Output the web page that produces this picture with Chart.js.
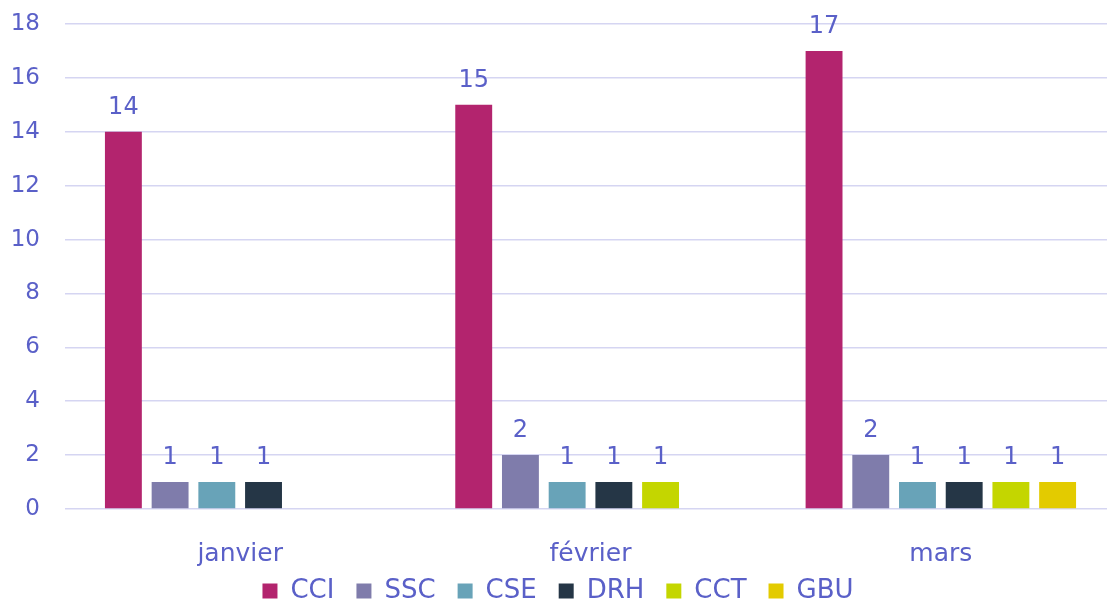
<!DOCTYPE html>
<html>
<head>
<meta charset="utf-8">
<script src="https://cdn.jsdelivr.net/npm/chart.js@4"></script>
<style>
  html, body { margin: 0; padding: 0; background: #fff; overflow: hidden; }
  #wrap { width: 1116px; height: 600px; }
</style>
</head>
<body>
<div id="wrap"><canvas id="barChart"></canvas></div>
<script>
const months = ['janvier', 'février', 'mars'];
const seriesNames = ['CCI', 'SSC', 'CSE', 'DRH', 'CCT', 'GBU'];
const cci = [14, 15, 17];
const ssc = [1, 2, 2];
const cse = [1, 1, 1];
const drh = [1, 1, 1];
const cct = [null, 1, 1];
const gbu = [null, null, 1];
const yTicks = [0, 2, 4, 6, 8, 10, 12, 14, 16, 18];

const colors = ['#b3246e', '#7f7cab', '#68a3b8', '#253646', '#c4d600', '#e3cb00'];
const textColor = '#5a60c8';
const font = 'DejaVu Sans';

const values = [cci, ssc, cse, drh, cct, gbu];

// labels above each bar
const barLabels = {
    id: 'barLabels',
    afterDatasetsDraw(chart) {
        const ctx = chart.ctx;
        ctx.save();
        ctx.fillStyle = textColor;
        ctx.font = '24px "' + font + '"';
        ctx.textAlign = 'center';
        ctx.textBaseline = 'bottom';
        chart.data.datasets.forEach((ds, i) => {
            const meta = chart.getDatasetMeta(i);
            meta.data.forEach((bar, j) => {
                const v = ds.data[j];
                if (v === null || v === undefined) return;
                ctx.fillText(v, bar.x, bar.y - 12);
            });
        });
        ctx.restore();
    }
};

// keep the legend box short so the plot reaches further down
const legendHeight = {
    id: 'legendHeight',
    afterInit(chart) {
        const lg = chart.legend;
        if (!lg) return;
        const fit = lg.fit;
        lg.fit = function() {
            fit.call(this);
            this.height = 44;
        };
    },
    afterLayout(chart) {
        // don't clip month labels at the axis box edge
        chart.scales.x.bottom = chart.height;
    }
};

const ctx = document.getElementById('barChart').getContext('2d');
new Chart(ctx, {
    type: 'bar',
    data: {
        labels: months,
        datasets: seriesNames.map((name, i) => ({
            label: name,
            data: values[i],
            backgroundColor: colors[i],
            categoryPercentage: 0.8,
            barPercentage: 0.79
        }))
    },
    options: {
        responsive: true,
        maintainAspectRatio: false,
        animation: false,
        layout: { padding: { top: 24, bottom: 0 } },
        scales: {
            x: {
                grid: { display: false },
                border: { display: false },
                ticks: { color: textColor, font: { family: font, size: 25 }, padding: 22 },
                afterFit(scale) { scale.height = 47; }
            },
            y: {
                min: 0,
                max: 18,
                afterBuildTicks(scale) { scale.ticks = yTicks.map(v => ({ value: v })); },
                grid: { color: '#d5d5f2', lineWidth: 1.5, drawTicks: false },
                border: { display: false },
                ticks: { color: textColor, font: { family: font, size: 23 }, padding: 25 },
                afterFit(scale) {
                    scale.width = 65;
                    scale.paddingTop = 0;
                    scale.paddingBottom = 0;
                }
            }
        },
        plugins: {
            legend: {
                position: 'bottom',
                align: 'center',
                labels: {
                    color: textColor,
                    font: { family: font, size: 26 },
                    boxWidth: 15,
                    boxHeight: 15,
                    padding: 22
                }
            },
            tooltip: { enabled: false }
        }
    },
    plugins: [barLabels, legendHeight]
});
</script>
</body>
</html>
